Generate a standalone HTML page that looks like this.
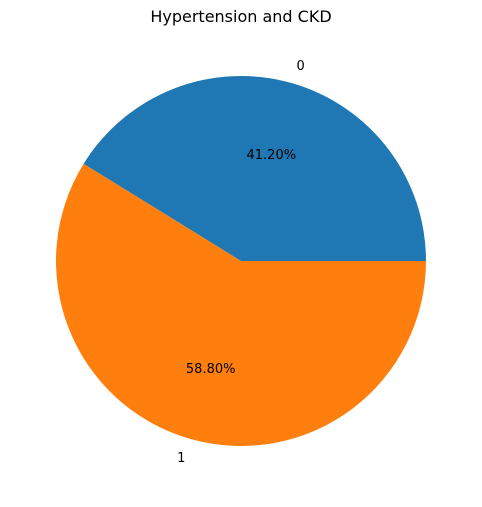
<!DOCTYPE html>
<html><head><meta charset="utf-8"><style>
html,body{margin:0;padding:0;background:#fff;}
svg text{font-family:"DejaVu Sans","Liberation Sans",sans-serif;}
</style></head><body>
<svg id="chart" width="482" height="502" viewBox="0 0 482 502" xmlns="http://www.w3.org/2000/svg">
<text x="241" y="22" text-anchor="middle" font-size="16" fill="#000">Hypertension and CKD</text>
</svg>
<script>
const categories = ["0", "1"];
const values = [41.2, 58.8];
const colors = ["#1f77b4", "#ff7f0e"];
const cx = 241, cy = 261, r = 185;
const svg = document.getElementById('chart');
const NS = 'http://www.w3.org/2000/svg';
const total = values.reduce((a,b)=>a+b,0);
function pt(deg, rad){ const a = deg*Math.PI/180; return [cx + rad*Math.cos(a), cy - rad*Math.sin(a)]; }
let start = 0;
values.forEach((v,i)=>{
  const sweep = v/total*360;
  const end = start + sweep;
  const [x1,y1] = pt(start, r), [x2,y2] = pt(end, r);
  const large = sweep > 180 ? 1 : 0;
  const p = document.createElementNS(NS,'path');
  p.setAttribute('d', `M${cx},${cy} L${x1},${y1} A${r},${r} 0 ${large} 0 ${x2},${y2} Z`);
  p.setAttribute('fill', colors[i]);
  
  
  svg.appendChild(p);
  const mid = start + sweep/2;
  const [lx,ly] = pt(mid, r*1.1);
  const t = document.createElementNS(NS,'text');
  t.setAttribute('x', lx); t.setAttribute('y', ly + 5);
  t.setAttribute('text-anchor', Math.cos(mid*Math.PI/180) >= 0 ? 'start' : 'end');
  t.setAttribute('font-size', '13');
  t.textContent = categories[i];
  
  
  svg.appendChild(t);
  const [px,py] = pt(mid, r*0.6);
  const pc = document.createElementNS(NS,'text');
  pc.setAttribute('x', px); pc.setAttribute('y', py + 5);
  pc.setAttribute('text-anchor', 'middle');
  pc.setAttribute('font-size', '13');
  pc.textContent = (v/total*100).toFixed(2) + '%';
  
  
  svg.appendChild(pc);
  start = end;
});
</script>
</body></html>
